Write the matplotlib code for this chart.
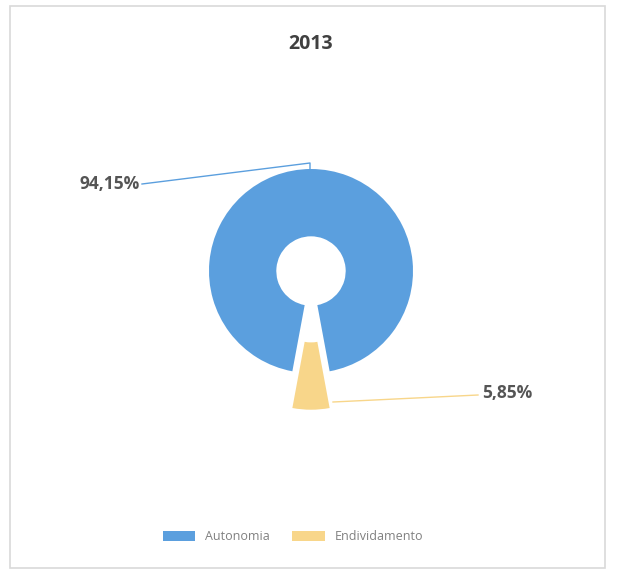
import matplotlib.pyplot as plt
from matplotlib.patches import Rectangle, Patch

# Dados
categorias = ["Autonomia", "Endividamento"]
valores = [94.15, 5.85]
rotulos = ["94,15%", "5,85%"]
cores = ["#5b9fde", "#f8d68a"]
titulo = "2013"

plt.rcParams['font.family'] = ['Open Sans', 'DejaVu Sans']

W, H = 619, 574
fig = plt.figure(figsize=(W / 100, H / 100), dpi=100)
ax = fig.add_axes([0, 0, 1, 1])

# moldura
fig.patches.append(Rectangle((10 / W, 6 / H), 595 / W, 562 / H, transform=fig.transFigure,
                             fill=False, edgecolor="#d9d9d9", linewidth=1.2))

cx, cy, r = 311, H - 271, 102
# fatia amarela centrada embaixo
inicio = 270 - 360 * (valores[0] + valores[1] / 2) / sum(valores)
wedges, _ = ax.pie(valores, colors=cores, center=(cx, cy), radius=r, startangle=inicio,
                   explode=[0, 0.36 * r], frame=True,
                   wedgeprops=dict(width=r * 0.66, edgecolor="none"))
ax.set_xlim(0, W)
ax.set_ylim(0, H)
ax.set_aspect("auto")
ax.axis("off")

# rótulos com linhas de chamada
ax.plot([142, 310, 310], [H - 184, H - 163, cy + r - 2], color="#5b9fde", lw=1)
ax.text(140, H - 184, rotulos[0], ha="right", va="center", fontsize=12.5,
        fontweight="bold", color="#555555")
ax.plot([333, 478], [H - 402, H - 395], color="#f8d68a", lw=1)
ax.text(482, H - 393, rotulos[1], ha="left", va="center", fontsize=12.5,
        fontweight="bold", color="#555555")

fig.text(311 / W, 1 - 44 / H, titulo, ha="center", va="center", fontsize=14,
         fontweight="bold", color="#404040")

handles = [Patch(facecolor=c, edgecolor="none") for c in cores]
fig.legend(handles, categorias, loc="center", bbox_to_anchor=(293 / W, 1 - 537 / H), ncol=2,
           frameon=False, fontsize=9, labelcolor="#808080", handlelength=2.6,
           handleheight=0.9, columnspacing=1.8, handletextpad=0.8)

fig.savefig("out.png", dpi=100)
